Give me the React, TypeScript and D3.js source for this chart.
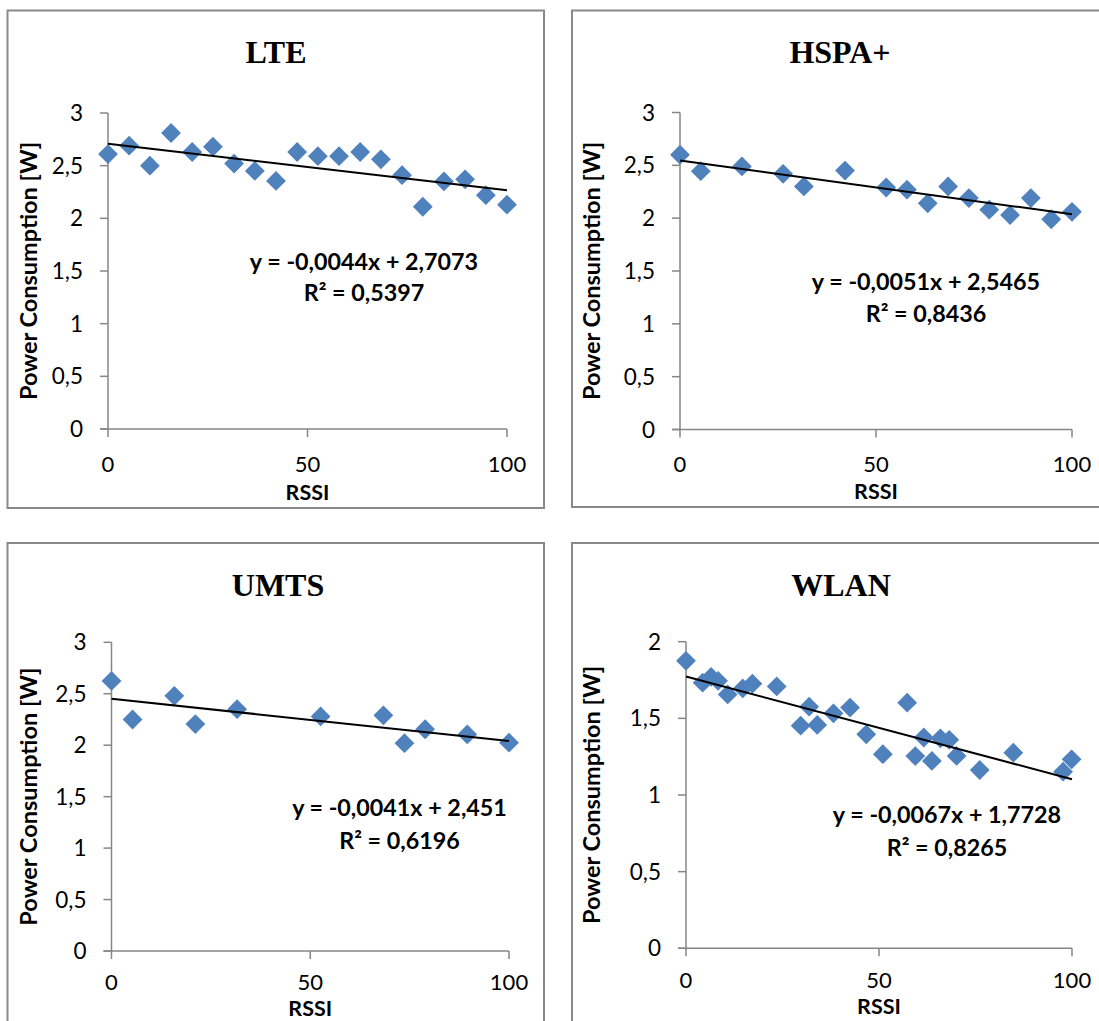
import React from "react";
import * as d3 from "d3";

// ---- Data ----
const lteX = [0, 5.3, 10.5, 15.8, 21.1, 26.3, 31.6, 36.8, 42.1, 47.4, 52.6, 57.9, 63.2, 68.4, 73.7, 78.9, 84.2, 89.5, 94.7, 100];
const lteY = [2.61, 2.69, 2.5, 2.81, 2.63, 2.68, 2.52, 2.45, 2.355, 2.63, 2.59, 2.59, 2.63, 2.56, 2.41, 2.11, 2.35, 2.37, 2.22, 2.13];

const hspaX = [0, 5.3, 15.8, 26.3, 31.6, 42.1, 52.6, 57.9, 63.2, 68.4, 73.7, 78.9, 84.2, 89.5, 94.7, 100];
const hspaY = [2.6, 2.445, 2.49, 2.42, 2.3, 2.45, 2.29, 2.27, 2.14, 2.3, 2.19, 2.08, 2.03, 2.19, 1.99, 2.06];

const umtsX = [0, 5.3, 15.8, 21.1, 31.6, 52.6, 68.4, 73.7, 78.9, 89.5, 100];
const umtsY = [2.625, 2.25, 2.48, 2.205, 2.35, 2.28, 2.29, 2.02, 2.155, 2.105, 2.025];

const wlanX = [0, 4.3, 6.5, 8.3, 10.8, 14.7, 17.2, 23.5, 29.7, 31.9, 34, 38.2, 42.5, 46.7, 51, 57.3, 59.4, 61.6, 63.7, 65.9, 68.2, 70.1, 76.1, 84.8, 97.7, 99.9];
const wlanY = [1.875, 1.733, 1.77, 1.745, 1.656, 1.695, 1.726, 1.708, 1.452, 1.576, 1.457, 1.533, 1.57, 1.396, 1.266, 1.602, 1.254, 1.375, 1.222, 1.37, 1.36, 1.255, 1.163, 1.276, 1.152, 1.233];

// Trendline coefficients (slope, intercept) and labels
const lteFit = [-0.0044, 2.7073];
const hspaFit = [-0.0051, 2.5465];
const umtsFit = [-0.0041, 2.451];
const wlanFit = [-0.0067, 1.7728];

const lteEq = ["y = -0,0044x + 2,7073", "R² = 0,5397"];
const hspaEq = ["y = -0,0051x + 2,5465", "R² = 0,8436"];
const umtsEq = ["y = -0,0041x + 2,451", "R² = 0,6196"];
const wlanEq = ["y = -0,0067x + 1,7728", "R² = 0,8265"];

const titles = ["LTE", "HSPA+", "UMTS", "WLAN"];
const xTicks = [0, 50, 100];
const yTicks3 = [0, 0.5, 1, 1.5, 2, 2.5, 3];
const yTicks2 = [0, 0.5, 1, 1.5, 2];
const xTitle = "RSSI";
const yTitle = "Power Consumption [W]";

// ---- Layout ----
const panels = [
  { title: titles[0], xs: lteX, ys: lteY, fit: lteFit, eq: lteEq, yMax: 3, yTicks: yTicks3,
    box: [7.5, 10.5, 536.5, 497.5], x0: 108, x1: 507, yT: 113, yB: 429,
    titleX: 276, titleY: 63, yLabX: 37, eqX: 364, eqY: 270, r2Y: 301, xTickY: 472, xTitleY: 500 },
  { title: titles[1], xs: hspaX, ys: hspaY, fit: hspaFit, eq: hspaEq, yMax: 3, yTicks: yTicks3,
    box: [572, 10.5, 540, 496.5], x0: 680, x1: 1072, yT: 112.5, yB: 429.5,
    titleX: 840, titleY: 63, yLabX: 600, eqX: 926, eqY: 290, r2Y: 322, xTickY: 472, xTitleY: 499 },
  { title: titles[2], xs: umtsX, ys: umtsY, fit: umtsFit, eq: umtsEq, yMax: 3, yTicks: yTicks3,
    box: [7.5, 543, 536.5, 600], x0: 111.5, x1: 509, yT: 642.3, yB: 951,
    titleX: 278, titleY: 596, yLabX: 37, eqX: 399.5, eqY: 816, r2Y: 849, xTickY: 990, xTitleY: 1015.5 },
  { title: titles[3], xs: wlanX, ys: wlanY, fit: wlanFit, eq: wlanEq, yMax: 2, yTicks: yTicks2,
    box: [572, 543, 540, 600], x0: 686, x1: 1072, yT: 641.7, yB: 948.3,
    titleX: 841, titleY: 596, yLabX: 600, eqX: 947, eqY: 823, r2Y: 856, xTickY: 988, xTitleY: 1014 },
];

const SANS = "Lato, 'Open Sans', sans-serif";
const SERIF = "'Liberation Serif', 'Times New Roman', serif";
const AXIS = "#868686";
const BLUE = "#4F81BD";
const fmt = (v: number) => String(v).replace(".", ",");

function Panel({ p }: { p: any }) {
  const x = d3.scaleLinear().domain([0, 100]).range([p.x0, p.x1]);
  const y = d3.scaleLinear().domain([0, p.yMax]).range([p.yB, p.yT]);
  const sym = d3.symbol().type(d3.symbolDiamond2).size(250);
  const line = d3.line<number>().x((d) => x(d)).y((d) => y(p.fit[0] * d + p.fit[1]));
  const [bx, by, bw, bh] = p.box;
  const yMid = (p.yT + p.yB) / 2;
  return (
    <g>
      <rect x={bx} y={by} width={bw} height={bh} fill="#fff" stroke="#898989" strokeWidth={2} />
      <text x={p.titleX} y={p.titleY} textAnchor="middle" fontFamily={SERIF} fontWeight="bold" fontSize={32} fill="#000">
        {p.title}
      </text>
      {/* axes */}
      <line x1={p.x0} x2={p.x0} y1={p.yT} y2={p.yB} stroke={AXIS} strokeWidth={1.5} />
      <line x1={p.x0 - 8} x2={p.x1} y1={p.yB} y2={p.yB} stroke={AXIS} strokeWidth={1.5} />
      {p.yTicks.map((t: number) => (
        <g key={"y" + t}>
          <line x1={p.x0 - 8} x2={p.x0} y1={y(t)} y2={y(t)} stroke={AXIS} strokeWidth={1.5} />
          <text x={p.x0 - 25} y={y(t) + 8} textAnchor="end" fontFamily={SANS} fontSize={22.5} fill="#000">
            {fmt(t)}
          </text>
        </g>
      ))}
      {xTicks.map((t) => (
        <g key={"x" + t}>
          <line x1={x(t)} x2={x(t)} y1={p.yB} y2={p.yB + 8} stroke={AXIS} strokeWidth={1.5} />
          <text x={x(t)} y={p.xTickY} textAnchor="middle" fontFamily={SANS} fontSize={22} fill="#000">
            {fmt(t)}
          </text>
        </g>
      ))}
      <text x={(p.x0 + p.x1) / 2} y={p.xTitleY} textAnchor="middle" fontFamily={SANS} fontWeight="bold" fontSize={21.5} fill="#000">
        {xTitle}
      </text>
      <text transform={`translate(${p.yLabX},${yMid}) rotate(-90)`} textAnchor="middle" fontFamily={SANS} fontWeight="bold" fontSize={23.5} fill="#000">
        {yTitle}
      </text>
      {/* points */}
      {p.xs.map((xv: number, i: number) => (
        <path key={i} d={sym() as string} transform={`translate(${x(xv)},${y(p.ys[i])})`} fill={BLUE} />
      ))}
      <path d={line([0, 100]) as string} stroke="#000" strokeWidth={2} fill="none" />
      <text x={p.eqX} y={p.eqY} textAnchor="middle" fontFamily={SANS} fontWeight="bold" fontSize={23.3} fill="#000">
        {p.eq[0]}
      </text>
      <text x={p.eqX} y={p.r2Y} textAnchor="middle" fontFamily={SANS} fontWeight="bold" fontSize={23.3} fill="#000">
        {p.eq[1]}
      </text>
    </g>
  );
}

export default function App() {
  return (
    <svg width={1099} height={1021} style={{ position: "absolute", left: 0, top: 0, background: "#fff" }}>
      <rect x={0} y={0} width={1099} height={1021} fill="#fff" />
      {panels.map((p, i) => (
        <Panel key={i} p={p} />
      ))}
    </svg>
  );
}
